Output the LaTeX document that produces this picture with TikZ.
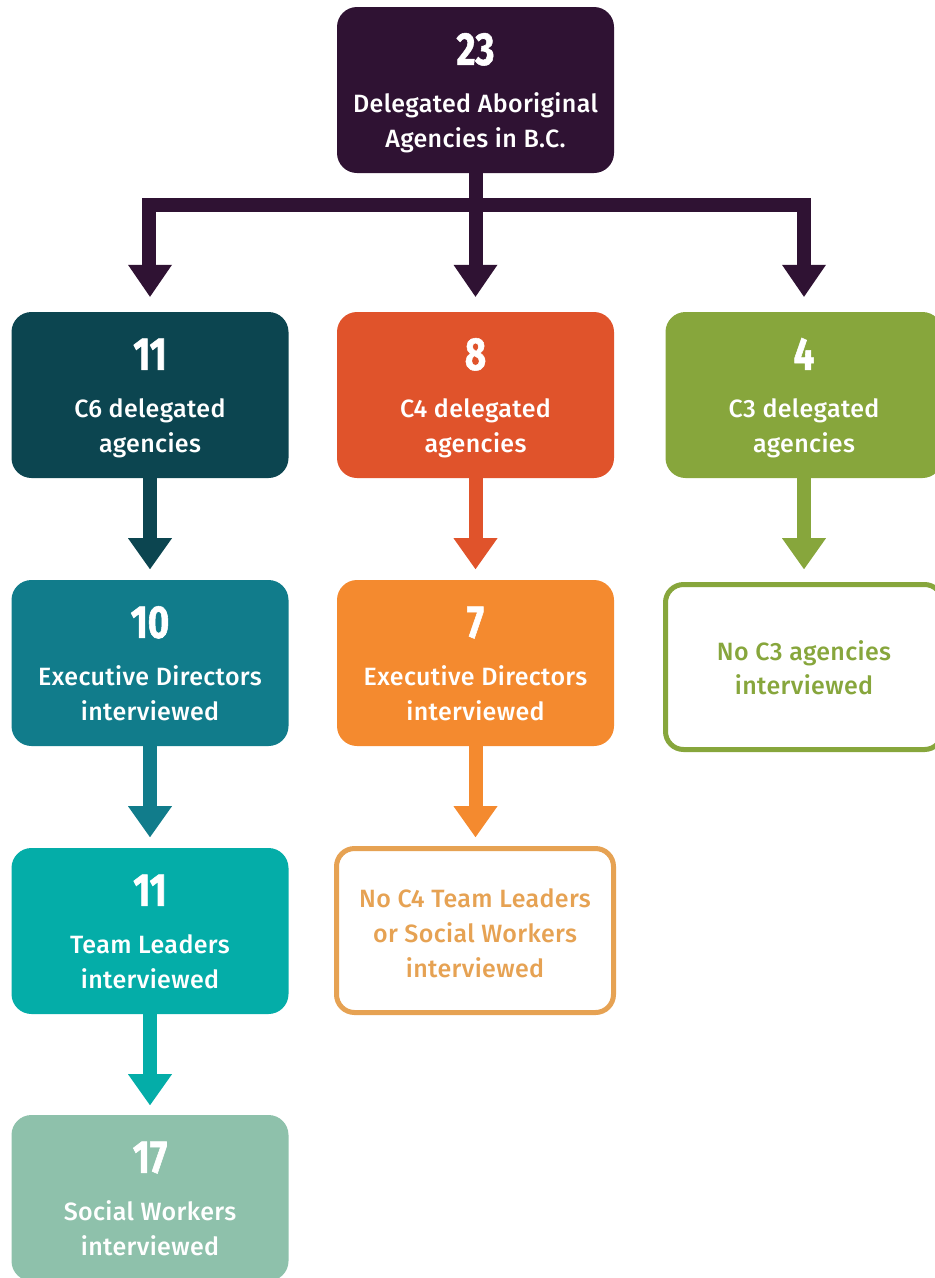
\documentclass[tikz,border=0pt]{standalone}
\usepackage{fontspec}
\setmainfont[LetterSpace=1.5]{Fira Sans Medium}
\newfontfamily\numfont[FakeStretch=0.8,FakeBold=1.2]{Fira Sans Bold}
\usetikzlibrary{calc}
\definecolor{cTop}{HTML}{2F1233}
\definecolor{cSix}{HTML}{0C4550}
\definecolor{cFour}{HTML}{E0532B}
\definecolor{cThree}{HTML}{87A63C}
\definecolor{cEDsix}{HTML}{117C8B}
\definecolor{cEDfour}{HTML}{F48A2F}
\definecolor{cTL}{HTML}{04ADA8}
\definecolor{cSW}{HTML}{8EC1AB}
\definecolor{cNoFour}{HTML}{E6A253}
\tikzset{
  fbox/.style={rounded corners=20pt, minimum width=277pt, minimum height=166pt, inner sep=0pt, fill=#1},
  obox/.style={rounded corners=18pt, minimum width=277pt, minimum height=165pt, inner sep=0pt, line width=5pt, draw=#1, fill=white},
  numtxt/.style={anchor=base, inner sep=0pt, text=white, font=\numfont\fontsize{46}{46}\selectfont},
  lbltxt/.style={anchor=base, inner sep=0pt, text=#1, font=\fontsize{25}{34}\selectfont},
  lbltxt/.default=white,
  stem/.style={draw=#1, line width=14pt, line cap=butt, line join=miter},
}
\newcommand\filledlabels[4]{%
  \node[numtxt] (#1-n) at ($(#1.north)+(0,58)$) {#2};
  \node[lbltxt] (#1-a) at ($(#1.north)+(0,106)$) {#3};
  \node[lbltxt] (#1-b) at ($(#1.north)+(0,141)$) {#4};}
\newcommand\colarrow[3]{%
  \draw[stem=#3] (#1.south) -- ($(#1.south)+(0,60)$);
  \fill[#3] ($(#1.south)+(-22,60)$) -- ($(#1.south)+(22,60)$) -- ($(#1.south)+(0,91)$) -- cycle;}
\begin{document}
\begin{tikzpicture}[x=1pt,y=-1pt]
\useasboundingbox (0,0) rectangle (935,1278);
\clip (0,0) rectangle (935,1278);
% boxes
\node[fbox=cTop] (top) at (475.5,90) {};
\node[fbox=cSix] (c6) at (150,395) {};
\node[fbox=cFour] (c4) at (475.5,395) {};
\node[fbox=cThree] (c3) at (804,395) {};
\node[fbox=cEDsix] (ed6) at (150,663) {};
\node[fbox=cEDfour] (ed4) at (475.5,663) {};
\node[obox=cThree] (nc3) at (804,667) {};
\node[fbox=cTL] (tl) at (150,931) {};
\node[obox=cNoFour, minimum height=164pt] (nc4) at (475,930.5) {};
\node[fbox=cSW] (sw) at (150,1198) {};
% labels
\filledlabels{top}{23}{Delegated Aboriginal}{Agencies in B.C.}
\filledlabels{c6}{11}{C6 delegated}{agencies}
\filledlabels{c4}{8}{C4 delegated}{agencies}
\filledlabels{c3}{4}{C3 delegated}{agencies}
\filledlabels{ed6}{10}{Executive Directors}{interviewed}
\filledlabels{ed4}{7}{Executive Directors}{interviewed}
\filledlabels{tl}{11}{Team Leaders}{interviewed}
\filledlabels{sw}{17}{Social Workers}{interviewed}
\node[lbltxt=cThree] (nc3-a) at ($(nc3.center)+(0,-7)$) {No C3 agencies};
\node[lbltxt=cThree] (nc3-b) at ($(nc3.center)+(0,27)$) {interviewed};
\node[lbltxt=cNoFour] (nc4-a) at ($(nc4.center)+(0,-23.5)$) {No C4 Team Leaders};
\node[lbltxt=cNoFour] (nc4-b) at ($(nc4.center)+(0,11.5)$) {or Social Workers};
\node[lbltxt=cNoFour] (nc4-c) at ($(nc4.center)+(0,46.5)$) {interviewed};
% top connectors
\coordinate (bar) at ($(top.south)+(0,32)$);
\draw[stem=cTop] (top.south) -- ($(c4.north)+(0,-47)$);
\draw[stem=cTop] ($(c6.north)+(-1,-47)$) |- (bar) -| ($(c3.north)+(0,-47)$);
\foreach \b in {c6,c4,c3}{
  \fill[cTop] ($(\b.north)+(-22,-47)$) -- ($(\b.north)+(22,-47)$) -- ($(\b.north)+(0,-15)$) -- cycle;}
% column connectors
\colarrow{c6}{ed6}{cSix}
\colarrow{ed6}{tl}{cEDsix}
\colarrow{tl}{sw}{cTL}
\colarrow{c4}{ed4}{cFour}
\colarrow{ed4}{nc4}{cEDfour}
\colarrow{c3}{nc3}{cThree}
\end{tikzpicture}
\end{document}
